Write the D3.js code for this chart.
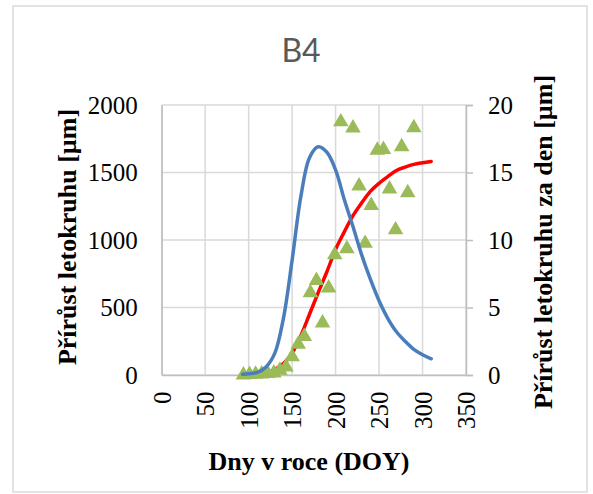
<!DOCTYPE html>
<html><head><meta charset="utf-8">
<script src="https://cdn.jsdelivr.net/npm/d3@7"></script>
<style>body{margin:0;background:#fff}svg{display:block}</style>
</head><body>
<svg id="c" width="593" height="494"></svg>
<script>
// ---- data ----
const title = "B4";
const xTicks = [0, 50, 100, 150, 200, 250, 300, 350];
const yLeftTicks = [0, 500, 1000, 1500, 2000];
const yRightTicks = [0, 5, 10, 15, 20];
// measured weekly ring-width increments (left axis, µm)
const obsDays = [94, 101, 108, 115, 122, 129, 136, 143, 150, 157, 164, 171, 178, 185, 192, 199, 206, 213, 220, 227, 234, 241, 248, 255, 262, 269, 276, 283, 290];
const obsValues = [0, 3, 5, 8, 12, 15, 35, 60, 135, 228, 285, 610, 700, 385, 645, 890, 1875, 935, 1830, 1400, 975, 1255, 1665, 1670, 1378, 1075, 1690, 1350, 1832];
// fitted cumulative curve (left axis, µm)
const fitDays = [93, 100, 110, 120, 130, 140, 150, 160, 170, 180, 190, 200, 210, 220, 230, 240, 250, 260, 270, 280, 290, 300, 310];
const fitCum = [0, 2, 6, 15, 40, 85, 160, 290, 450, 610, 765, 930, 1060, 1180, 1275, 1360, 1420, 1470, 1515, 1540, 1560, 1572, 1582];
// daily increment curve (right axis, µm/day)
const fitDaily = [0.05, 0.1, 0.2, 0.6, 1.6, 4.2, 8.5, 13.2, 16.1, 16.9, 16.5, 15.2, 13.0, 11.0, 8.9, 7.1, 5.5, 4.2, 3.2, 2.5, 1.9, 1.5, 1.2];

const yLeftTitle = "Přírůst letokruhu [µm]";
const yRightTitle = "Přírůst letokruhu za den [µm]";
const xTitle = "Dny v roce (DOY)";

// ---- layout ----
const svg = d3.select("#c");
const L = 161.7, R = 466, T = 105, B = 375;
const serif = "'Liberation Serif','Times New Roman',serif";

svg.append("rect").attr("x", 13).attr("y", 6).attr("width", 574).attr("height", 486)
  .attr("fill", "#fff").attr("stroke", "#d9d9d9").attr("stroke-width", 1.5);

const x = d3.scaleLinear().domain([0, 350]).range([L, R]);
const yL = d3.scaleLinear().domain([0, 2000]).range([B, T]);
const yR = d3.scaleLinear().domain([0, 20]).range([B, T]);

// gridlines
const g = svg.append("g");
g.selectAll(".vg").data(xTicks).join("line")
  .attr("x1", d => x(d)).attr("x2", d => x(d)).attr("y1", T).attr("y2", B)
  .attr("stroke", "#d9d9d9").attr("stroke-width", 1.5);
g.selectAll(".hg").data(yLeftTicks).join("line")
  .attr("x1", L).attr("x2", R).attr("y1", d => yL(d)).attr("y2", d => yL(d))
  .attr("stroke", "#d9d9d9").attr("stroke-width", 1.5);

// axes
const axL = svg.append("g").attr("transform", `translate(${L},0)`)
  .call(d3.axisLeft(yL).tickValues(yLeftTicks).tickSize(0).tickPadding(24).tickFormat(d3.format("d")));
const axR = svg.append("g").attr("transform", `translate(${R},0)`)
  .call(d3.axisRight(yR).tickValues(yRightTicks).tickSize(7).tickPadding(15).tickFormat(d3.format("d")));
const axB = svg.append("g").attr("transform", `translate(0,${B})`)
  .call(d3.axisBottom(x).tickValues(xTicks).tickSize(0).tickFormat(d3.format("d")));

[axL, axR, axB].forEach(a => {
  a.select(".domain").attr("stroke", "#bfbfbf").attr("stroke-width", 1.5);
  a.selectAll(".tick line").attr("stroke", "#bfbfbf").attr("stroke-width", 1.5);
  a.selectAll("text").attr("font-family", serif).attr("font-size", 25).attr("fill", "#000");
});
axB.selectAll(".tick text")
  .attr("transform", "rotate(-90)")
  .attr("text-anchor", "end")
  .attr("x", -16.5).attr("y", 0).attr("dy", "0.35em");

// fitted cumulative (red)
const cumLine = d3.line().x((d, i) => x(fitDays[i])).y(d => yL(d)).curve(d3.curveMonotoneX);
svg.append("path").datum(fitCum).attr("d", cumLine)
  .attr("fill", "none").attr("stroke", "#ff0000").attr("stroke-width", 3.5).attr("stroke-linecap", "round");

// observations (green triangles)
const tri = d3.symbol().type(d3.symbolTriangle).size(105);
svg.append("g").selectAll("path").data(obsValues).join("path")
  .attr("d", tri)
  .attr("transform", (d, i) => `translate(${x(obsDays[i])},${yL(d)})`)
  .attr("fill", "#9bbb59");

// daily (blue)
const dayLine = d3.line().x((d, i) => x(fitDays[i])).y(d => yR(d)).curve(d3.curveCatmullRom.alpha(0.5));
svg.append("path").datum(fitDaily).attr("d", dayLine)
  .attr("fill", "none").attr("stroke", "#4a7ebb").attr("stroke-width", 3.5).attr("stroke-linecap", "round");

// titles
svg.append("text").attr("x", 301).attr("y", 62).attr("text-anchor", "middle")
  .attr("font-family", "Lato, 'Open Sans', sans-serif").attr("font-size", 32).attr("fill", "#595959")
  .text(title);
svg.append("text").attr("transform", "translate(67,237) rotate(-90)").attr("text-anchor", "middle")
  .attr("dy", "0.35em").attr("font-family", serif).attr("font-weight", "bold").attr("font-size", 26)
  .text(yLeftTitle);
svg.append("text").attr("transform", "translate(543,242) rotate(-90)").attr("text-anchor", "middle")
  .attr("dy", "0.35em").attr("font-family", serif).attr("font-weight", "bold").attr("font-size", 26)
  .text(yRightTitle);
svg.append("text").attr("x", 309).attr("y", 470).attr("text-anchor", "middle")
  .attr("font-family", serif).attr("font-weight", "bold").attr("font-size", 26)
  .text(xTitle);
</script>
</body></html>
